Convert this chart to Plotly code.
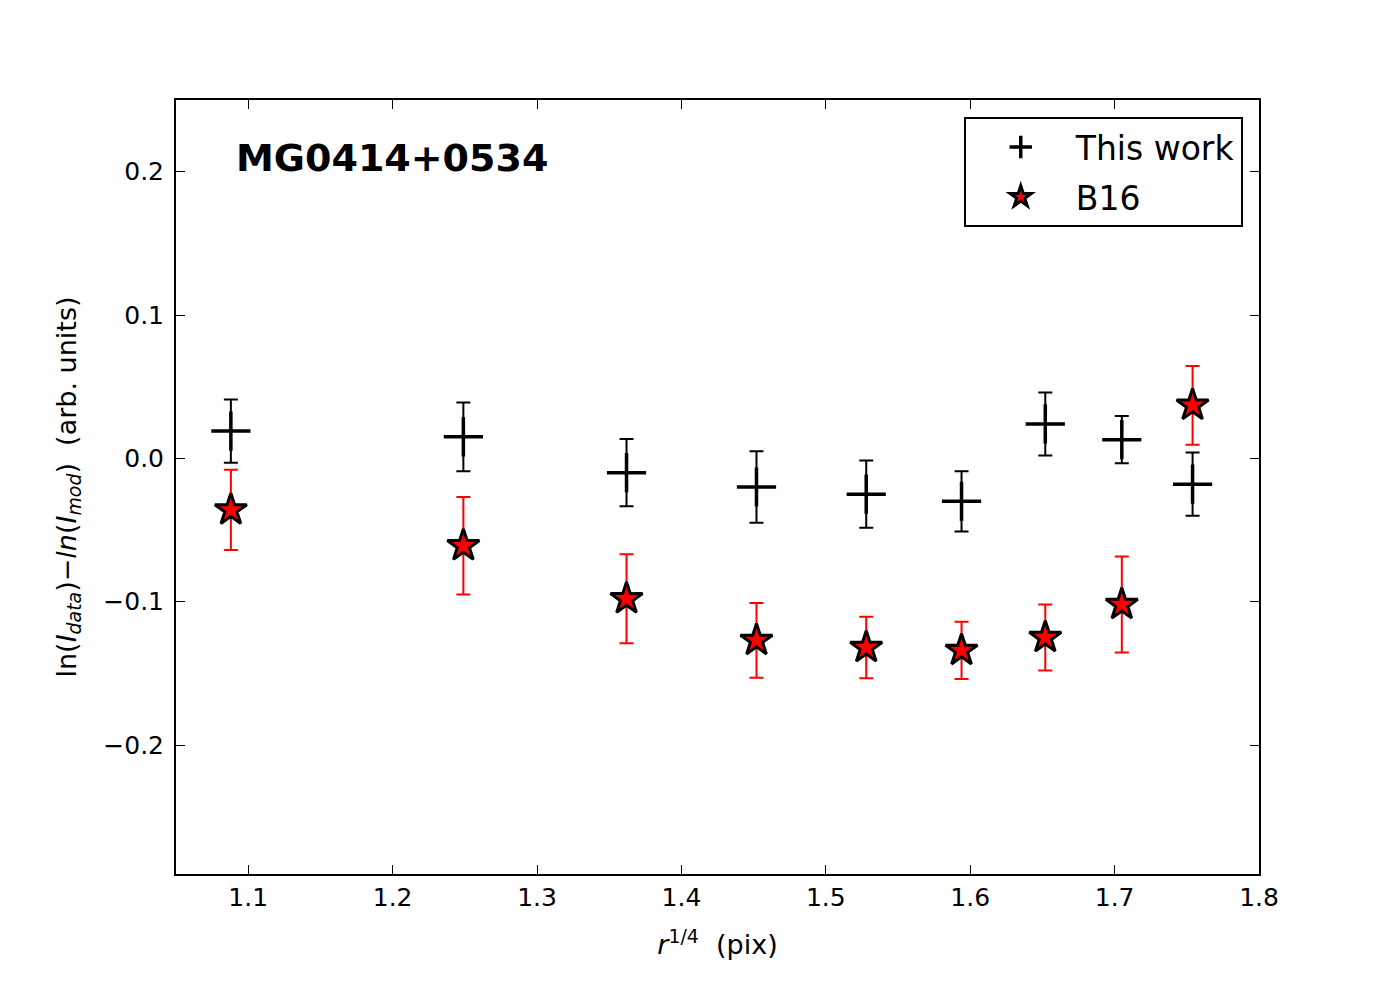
import plotly.graph_objects as go

# Data
r14 = [1.088, 1.249, 1.362, 1.452, 1.528, 1.594, 1.652, 1.705, 1.754]
this_work = [0.019, 0.015, -0.010, -0.020, -0.025, -0.030, 0.024, 0.013, -0.018]
this_work_err = [0.022, 0.024, 0.0235, 0.025, 0.0235, 0.021, 0.022, 0.0165, 0.022]
b16 = [-0.036, -0.061, -0.098, -0.127, -0.132, -0.134, -0.125, -0.102, 0.037]
b16_err = [0.028, 0.034, 0.031, 0.026, 0.0215, 0.020, 0.023, 0.0335, 0.0275]

FONT = "DejaVu Sans"

fig = go.Figure()
fig.add_trace(go.Scatter(
    x=r14, y=this_work, mode="markers", name="This work", legendgroup="a",
    marker=dict(symbol="cross-thin", size=28, color="black",
                line=dict(color="black", width=3.5)),
    error_y=dict(type="data", array=this_work_err, color="black",
                 thickness=2, width=7),
))
fig.add_trace(go.Scatter(
    x=r14, y=b16, mode="markers", name="B16", legendgroup="b",
    marker=dict(symbol="star", size=24, color="red",
                line=dict(color="black", width=3)),
    error_y=dict(type="data", array=b16_err, color="red",
                 thickness=2, width=7),
))

axis_common = dict(
    showgrid=False, zeroline=False, showline=True, linecolor="black",
    linewidth=2, mirror="ticks", ticks="inside", ticklen=9,
    tickwidth=1, tickcolor="black",
    tickfont=dict(family=FONT, size=25, color="black"),
)

fig.update_layout(
    width=1392, height=992,
    paper_bgcolor="white", plot_bgcolor="white",
    margin=dict(l=168, r=141, t=92, b=126),
    font=dict(family=FONT, color="black"),
    showlegend=True,
    legend=dict(x=0.985, y=0.978, xanchor="right", yanchor="top",
                bordercolor="black", borderwidth=2, bgcolor="white",
                font=dict(family=FONT, size=33),
                itemwidth=100, tracegroupgap=4),
    xaxis=dict(range=[1.05, 1.8], dtick=0.1, tick0=1.1, tickformat=".1f",
               ticklabelstandoff=0,
               title=dict(text="<i>r</i><sup>1/4</sup>  (pix)",
                          font=dict(family=FONT, size=27), standoff=24),
               **axis_common),
    yaxis=dict(range=[-0.29, 0.25], dtick=0.1, tickformat=".1f",
               ticklabelstandoff=5,
               title=dict(text="ln(<i>I</i><sub><i>data</i></sub>)−<i>ln</i>(<i>I</i><sub><i>mod</i></sub>)  (arb. units)",
                          font=dict(family=FONT, size=27), standoff=19),
               **axis_common),
    annotations=[dict(
        x=0.054, y=0.925, xref="paper", yref="paper",
        xanchor="left", yanchor="middle", showarrow=False,
        text="<b>MG0414+0534</b>",
        font=dict(family=FONT, size=38, color="black"),
    )],
)

fig.write_html("out.html")
